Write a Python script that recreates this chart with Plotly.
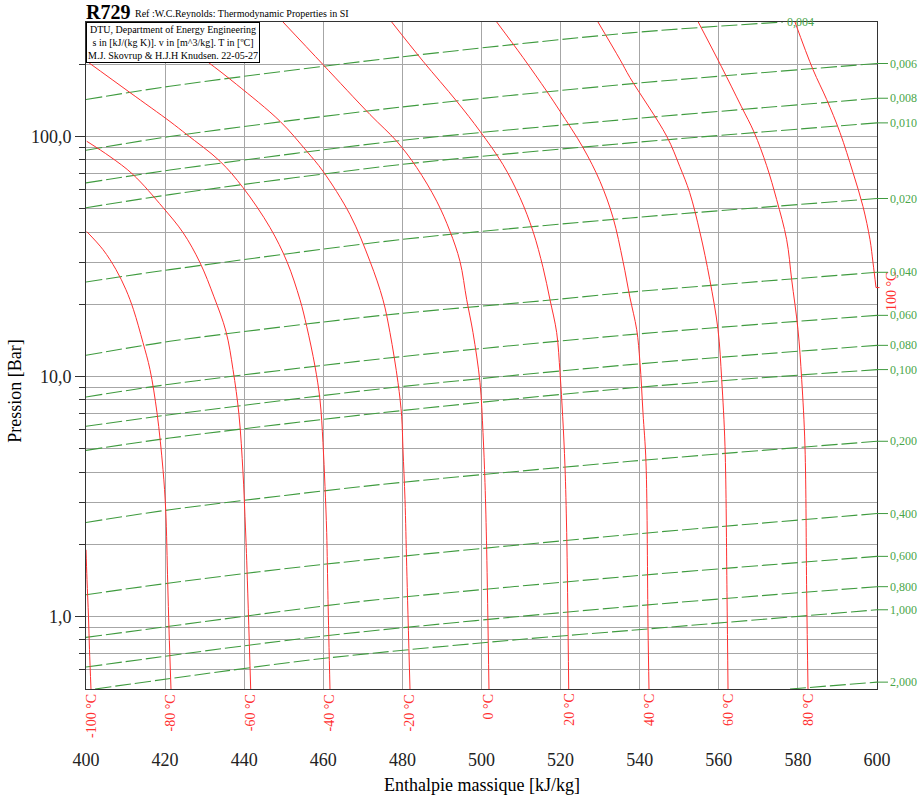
import numpy as np
import plotly.graph_objects as go

# ---------------- data ----------------
# Isotherms: enthalpy h [kJ/kg] and pressure p [bar]
iso_labels = ["-100 °C", "-80 °C", "-60 °C", "-40 °C", "-20 °C", "0 °C",
              "20 °C", "40 °C", "60 °C", "80 °C", "100 °C"]

iso_m100_h = [400.0, 400.25, 400.63, 400.88, 401.26]
iso_m100_p = [1.90, 1.43, 1.00, 0.729, 0.50]

iso_m80_h = [400.18, 404.30, 407.59, 410.11, 412.01, 414.41, 416.18, 417.95, 419.47, 420.15,
             420.66, 420.99, 421.49]
iso_m80_p = [40.2, 33.8, 27.9, 23.0, 19.0, 13.86, 10.7, 7.08, 4.10, 2.79, 1.386, 0.883, 0.50]

iso_m60_h = [400.18, 406.07, 411.88, 419.47, 424.53, 428.82, 432.36, 435.40, 437.17, 438.68, 439.70,
             440.20, 440.63, 441.64]
iso_m60_p = [95.6, 82.5, 69.5, 50.6, 39.8, 29.85, 21.5, 15.4, 10.7, 6.94, 3.98, 2.61, 1.72, 0.50]

iso_m40_h = [400.18, 411.12, 421.24, 425.46, 433.88, 439.70, 446.52, 450.82, 454.11, 455.80, 457.90,
             459.16, 459.92, 460.43, 460.86, 461.19, 461.69]
iso_m40_p = [206.0, 152.5, 115.5, 102.0, 78.9, 61.3, 41.8, 30.1, 20.9, 16.2, 11.04,
             8.02, 5.31, 3.48, 2.24, 1.177, 0.50]

iso_m20_h = [416.69, 430.52, 438.10, 449.05, 455.80, 459.92, 466.75, 471.81, 475.09, 476.86, 478.89,
             479.82, 480.15, 480.66, 481.09, 481.92]
iso_m20_p = [300.0, 206.0, 164.7, 115.8, 86.9, 71.7, 47.3, 30.2, 20.9, 15.25, 9.44,
             6.81, 4.96, 3.07, 1.615, 0.50]

iso_0_h = [449.81, 459.92, 471.81, 478.56, 483.61, 488.67, 492.03, 494.56, 496.26, 497.85, 499.62,
           500.38, 500.88, 501.31, 501.89]
iso_0_p = [300.0, 199.5, 123.5, 95.6, 74.3, 53.8, 40.3, 30.2, 20.9, 15.25, 9.44,
           5.84, 3.62, 1.90, 0.50]

iso_20_h = [477.29, 485.21, 493.73, 499.62, 505.43, 509.73, 513.02, 515.55, 517.32, 519.01, 519.85,
            520.53, 521.11, 521.54, 522.05]
iso_20_p = [300.0, 206.0, 140.3, 105.2, 76.4, 55.7, 40.3, 28.5, 20.9, 15.25, 10.39,
            6.81, 4.22, 2.24, 0.50]

iso_40_h = [503.84, 510.49, 516.48, 519.85, 525.66, 529.96, 533.25, 535.78, 537.55, 539.24, 540.07,
            540.83, 541.59, 542.10, 542.35]
iso_40_p = [300.0, 213.5, 154.5, 127.5, 90.0, 65.1, 46.0, 30.2, 21.3, 15.7, 11.44,
            7.08, 4.38, 0.909, 0.50]

iso_60_h = [529.45, 535.01, 537.55, 546.83, 550.11, 552.64, 555.25, 557.71, 559.80, 560.73, 561.57,
            562.07, 562.33]
iso_60_p = [300.0, 209.4, 176.0, 100.3, 75.2, 58.4, 39.8, 25.4, 15.7, 9.72, 5.11, 1.26, 0.50]

iso_80_h = [554.80, 560.61, 565.67, 568.96, 572.10, 574.63, 577.16, 578.42, 580.02, 580.96, 581.79,
            582.22, 582.55]
iso_80_p = [300.0, 196.3, 133.7, 103.9, 75.6, 54.6, 37.2, 25.4, 15.7, 9.72, 5.11, 1.26, 0.50]

iso_100_h = [579.26, 583.81, 587.28, 590.64, 593.93, 596.46, 598.23, 598.99, 599.75]
iso_100_p = [300.0, 190.2, 142.6, 103.9, 70.8, 51.1, 37.2, 29.85, 23.5]

# Isochores: specific volume v [m^3/kg]
vol_labels = ["0,004", "0,006", "0,008", "0,010", "0,020", "0,040", "0,060", "0,080",
              "0,100", "0,200", "0,400", "0,600", "0,800", "1,000", "2,000"]

v004_h = [400.0, 421.2, 479.4, 537.6, 576.2]
v004_p = [142.6, 162.0, 214.4, 270.4, 300.0]
v006_h = [400.0, 421.2, 479.4, 537.6, 600.0]
v006_p = [87.7, 100.0, 132.5, 165.8, 201.5]
v008_h = [400.0, 421.2, 479.4, 537.6, 600.0]
v008_p = [64.1, 72.5, 96.2, 118.3, 144.4]
v010_h = [400.0, 421.2, 479.4, 537.6, 600.0]
v010_p = [50.5, 57.3, 76.4, 94.1, 114.0]
v020_h = [400.0, 421.2, 479.4, 537.6, 600.0]
v020_p = [24.8, 27.9, 37.2, 45.8, 55.2]
v040_h = [400.0, 421.2, 474.3, 518.1, 537.6, 600.0]
v040_p = [12.27, 14.03, 17.96, 20.9, 22.5, 27.2]
v060_h = [400.0, 421.2, 474.3, 537.6, 600.0]
v060_p = [8.23, 9.3, 11.85, 14.96, 18.0]
v080_h = [400.0, 421.2, 474.3, 537.6, 600.0]
v080_p = [6.21, 6.94, 8.89, 11.22, 13.5]
v100_h = [400.0, 421.2, 474.3, 537.6, 600.0]
v100_p = [4.93, 5.55, 7.06, 8.97, 10.7]
v200_h = [400.0, 421.2, 474.3, 537.6, 600.0]
v200_p = [2.47, 2.79, 3.55, 4.44, 5.38]
v400_h = [400.0, 421.2, 459.2, 537.6, 600.0]
v400_p = [1.235, 1.382, 1.647, 2.20, 2.69]
v600_h = [400.0, 459.2, 473.5, 537.6, 600.0]
v600_p = [0.820, 1.104, 1.177, 1.475, 1.784]
v800_h = [400.0, 459.2, 537.6, 600.0]
v800_p = [0.617, 0.828, 1.104, 1.334]
v1000_h = [402.3, 459.2, 508.9, 537.6, 600.0]
v1000_p = [0.50, 0.668, 0.802, 0.877, 1.069]
v2000_h = [578.0, 600.0]
v2000_p = [0.50, 0.534]

x_ticks = [400, 420, 440, 460, 480, 500, 520, 540, 560, 580, 600]
y_ticks = [1, 10, 100]
y_ticktext = ["1,0", "10,0", "100,0"]
y_minor = [0.6, 0.7, 0.8, 0.9, 2, 3, 4, 5, 6, 7, 8, 9, 20, 30, 40, 50, 60, 70, 80, 90, 200]

# ---------------- figure ----------------
FONT = "Liberation Serif"
RED = "#ff3030"
GREEN = "#3f9b3f"
GREEN_TXT = "#4aa64a"

isotherms = [(iso_m100_h, iso_m100_p), (iso_m80_h, iso_m80_p), (iso_m60_h, iso_m60_p),
             (iso_m40_h, iso_m40_p), (iso_m20_h, iso_m20_p), (iso_0_h, iso_0_p),
             (iso_20_h, iso_20_p), (iso_40_h, iso_40_p), (iso_60_h, iso_60_p),
             (iso_80_h, iso_80_p), (iso_100_h, iso_100_p)]
isochores = [(v004_h, v004_p), (v006_h, v006_p), (v008_h, v008_p), (v010_h, v010_p),
             (v020_h, v020_p), (v040_h, v040_p), (v060_h, v060_p), (v080_h, v080_p),
             (v100_h, v100_p), (v200_h, v200_p), (v400_h, v400_p), (v600_h, v600_p),
             (v800_h, v800_p), (v1000_h, v1000_p), (v2000_h, v2000_p)]

fig = go.Figure()

for h, p in isochores:
    fig.add_trace(go.Scatter(x=h, y=p, mode="lines", hoverinfo="skip", showlegend=False,
                             line=dict(color=GREEN, width=1.1, dash="16px,4px",
                                       shape="spline", smoothing=0.8)))
for h, p in isotherms:
    fig.add_trace(go.Scatter(x=h, y=p, mode="lines", hoverinfo="skip", showlegend=False,
                             line=dict(color=RED, width=1, shape="spline", smoothing=1.0)))

ann = []
# isotherm labels at the bottom
for lab, (h, p) in zip(iso_labels[:-1], isotherms[:-1]):
    ann.append(dict(x=h[-1], y=np.log10(p[-1]), xref="x", yref="y", text=lab,
                    showarrow=False, textangle=-90, xanchor="center", yanchor="top",
                    yshift=-3, font=dict(family=FONT, size=14, color=RED)))
# 100 °C label on the right: small hook + rotated text
ann.append(dict(x=iso_100_h[-1], y=np.log10(iso_100_p[-1]), xref="x", yref="y",
                text="", showarrow=True, arrowhead=0, arrowwidth=1,
                arrowcolor=RED, ax=5, ay=0))
ann.append(dict(x=iso_100_h[-1], y=np.log10(iso_100_p[-1]), xref="x", yref="y",
                text=iso_labels[-1], showarrow=False, xanchor="left", yanchor="middle",
                xshift=6, yshift=-4, textangle=-90,
                font=dict(family=FONT, size=14, color=RED)))
# isochore labels
for lab, (h, p) in zip(vol_labels, isochores):
    if h[-1] < 599:
        ann.append(dict(x=h[-1], y=np.log10(p[-1]), xref="x", yref="y", text=lab,
                        showarrow=False, xanchor="left", yanchor="middle", xshift=2,
                        font=dict(family=FONT, size=12, color=GREEN_TXT)))
    else:
        ann.append(dict(x=h[-1], y=np.log10(p[-1]), xref="x", yref="y", text=lab,
                        showarrow=True, arrowhead=0, arrowwidth=1, arrowcolor=GREEN,
                        ax=11, ay=0, xanchor="left", yanchor="middle",
                        font=dict(family=FONT, size=12, color=GREEN_TXT)))

# titles
ann.append(dict(x=0, y=1, xref="paper", yref="paper", text="<b>R729</b>", showarrow=False,
                xanchor="left", yanchor="bottom", yshift=-3, xshift=-2,
                font=dict(family=FONT, size=20, color="black")))
ann.append(dict(x=0, y=1, xref="paper", yref="paper",
                text="Ref :W.C.Reynolds: Thermodynamic Properties in SI", showarrow=False,
                xanchor="left", yanchor="bottom", xshift=47, yshift=1,
                font=dict(family=FONT, size=10, color="black")))
ann.append(dict(x=0, y=1, xref="paper", yref="paper",
                text="DTU, Department of Energy Engineering<br>s in [kJ/(kg K)]. v in [m^3/kg]. T in [ºC]"
                     "<br>M.J. Skovrup &amp; H.J.H Knudsen. 22-05-27",
                showarrow=False, xanchor="left", yanchor="top", align="center",
                bgcolor="white", bordercolor="black", borderwidth=1, borderpad=1,
                font=dict(family=FONT, size=10, color="black")))
# axis titles
ann.append(dict(x=0.5, y=-0.144, xref="paper", yref="paper", text="Enthalpie massique [kJ/kg]",
                showarrow=False, xanchor="center", yanchor="middle",
                font=dict(family=FONT, size=18, color="black")))
ann.append(dict(x=-0.0898, y=0.447, xref="paper", yref="paper", text="Pression [Bar]",
                showarrow=False, xanchor="center", yanchor="middle", textangle=-90,
                font=dict(family=FONT, size=18, color="black")))

GRID = "#a6a6a6"
fig.update_layout(
    width=922, height=798,
    margin=dict(l=86, r=45, t=22, b=109),
    plot_bgcolor="white", paper_bgcolor="white",
    font=dict(family=FONT, size=17, color="black"),
    annotations=ann,
    xaxis=dict(range=[400, 600], tickmode="array", tickvals=x_ticks,
               showgrid=True, gridcolor=GRID, gridwidth=1, zeroline=False,
               showline=True, linecolor="#333", linewidth=1, mirror=True,
               ticks="", ticklabelstandoff=54,
               tickfont=dict(family=FONT, size=18, color="#222")),
    yaxis=dict(type="log", range=[np.log10(0.5), np.log10(300)], tickmode="array",
               tickvals=y_ticks, ticktext=y_ticktext,
               showgrid=True, gridcolor=GRID, gridwidth=1, zeroline=False,
               showline=True, linecolor="#333", linewidth=1, mirror=True,
               ticks="outside", ticklen=10, tickcolor="#333",
               tickfont=dict(family=FONT, size=18, color="#222"),
               minor=dict(tickmode="array", tickvals=y_minor, ticks="outside", ticklen=6,
                          tickcolor="#333", showgrid=True, gridcolor=GRID, gridwidth=1)),
)

fig.write_html("out.html", config={"displayModeBar": False},
               post_script="document.body.style.margin='0';")
